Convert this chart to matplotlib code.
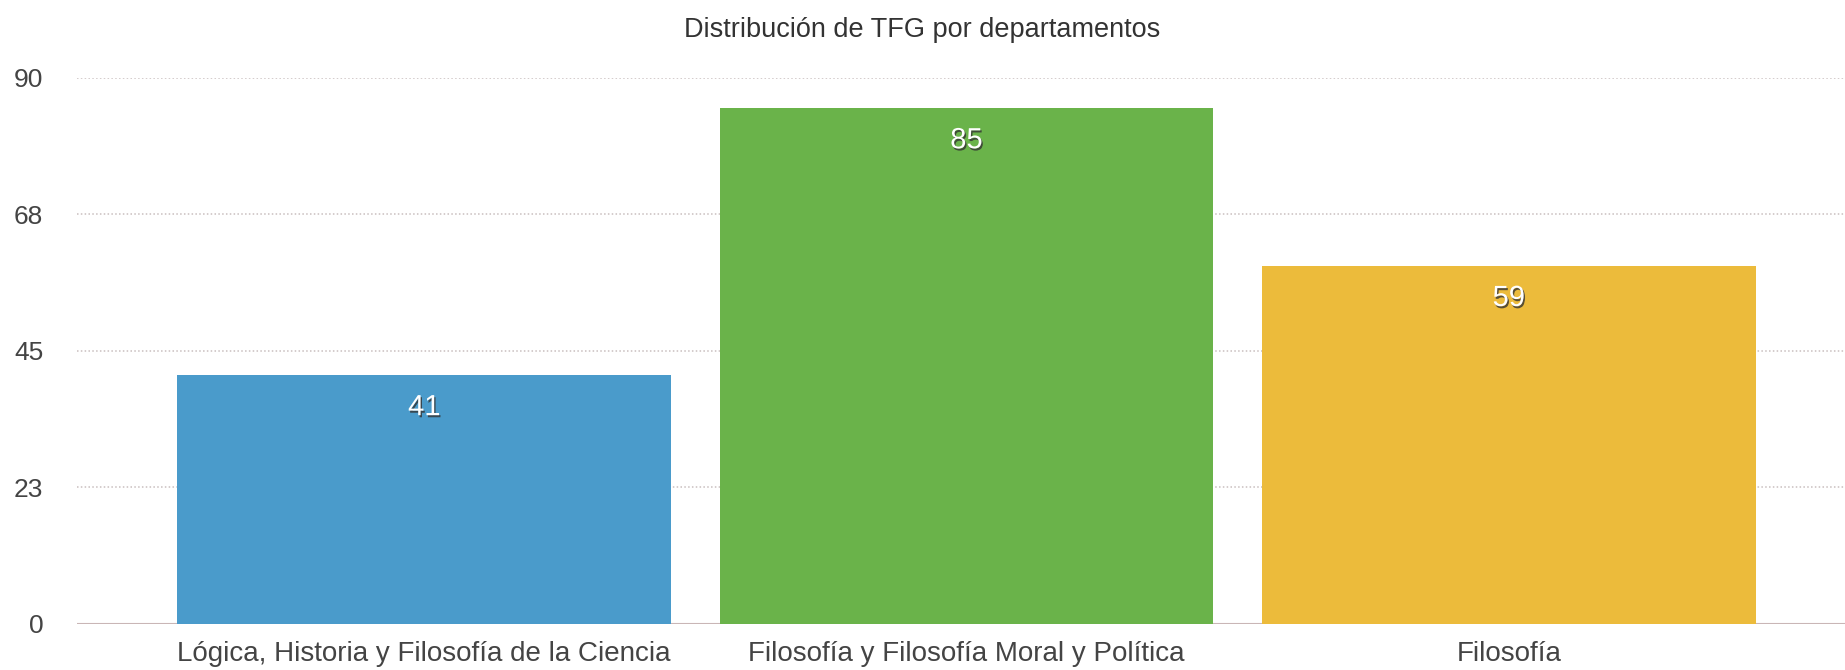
import matplotlib
matplotlib.use("Agg")
import matplotlib.pyplot as plt
import matplotlib.patheffects as pe

# Data
departamentos = [
    "Lógica, Historia y Filosofía de la Ciencia",
    "Filosofía y Filosofía Moral y Política",
    "Filosofía",
]
tfg = [41, 85, 59]
colores = ["#4A9BCB", "#6AB34A", "#ECBB3B"]
y_ticks = [0, 22.5, 45, 67.5, 90]
y_labels = ["0", "23", "45", "68", "90"]

plt.rcParams["font.family"] = ["Liberation Sans", "DejaVu Sans"]

fig = plt.figure(figsize=(18.45, 6.7), dpi=100)
ax = fig.add_axes([0.0415, 0.0687, 0.9585, 0.8149])

x = range(len(departamentos))
bars = ax.bar(x, tfg, width=0.91, color=colores, zorder=3)

for b, v in zip(bars, tfg):
    ax.annotate(
        str(v),
        xy=(b.get_x() + b.get_width() / 2, v),
        xytext=(0, -23),
        textcoords="offset points",
        ha="center",
        va="center",
        color="white",
        fontsize=21,
        zorder=4,
        path_effects=[
            pe.SimplePatchShadow(offset=(1, -1.5), shadow_rgbFace="#333333", alpha=0.8),
            pe.Normal(),
        ],
    )

ax.set_xlim(-0.641, 2.62)
ax.set_ylim(0, 90)
ax.set_yticks(y_ticks)
ax.set_yticklabels(y_labels)
ax.set_xticks(list(x))
ax.set_xticklabels(departamentos)

ax.tick_params(axis="y", length=0, pad=24, labelsize=19, labelcolor="#444444")
ax.tick_params(axis="x", length=0, pad=12.5, labelsize=20, labelcolor="#444444")

ax.grid(axis="y", linestyle=(0, (1, 1.5)), color="#c9bfbf", linewidth=1.1, zorder=0)
ax.axhline(0, color="#c9b6b6", linewidth=1.5, zorder=2)

for s in ax.spines.values():
    s.set_visible(False)

fig.text(0.5, 0.955, "Distribución de TFG por departamentos",
         ha="center", va="center", fontsize=19.5, color="#333333")

fig.savefig("out.png", dpi=100, facecolor="white")
